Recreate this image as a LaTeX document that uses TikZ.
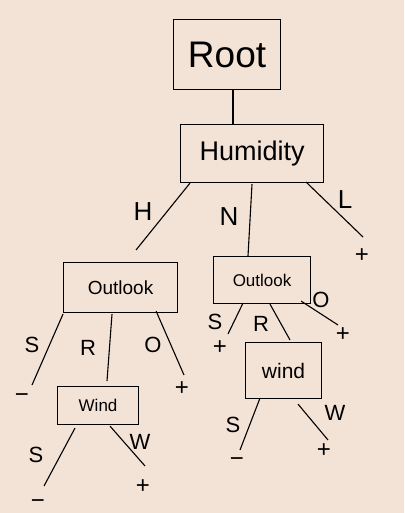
\documentclass[tikz,border=0pt]{standalone}
\usepackage{fontspec}
\setmainfont{Liberation Sans}
\usetikzlibrary{calc}
\definecolor{bg}{RGB}{243,226,214}
\begin{document}
\begin{tikzpicture}[x=1pt,y=-1pt,
  box/.style={draw,line width=1.1pt,inner sep=0pt,anchor=north west},
  lbl/.style={inner sep=1pt,font=\fontsize{22}{22}\selectfont},
  leaf/.style={inner sep=2pt,font=\fontsize{24}{24}\selectfont},
  edge/.style={line width=1.1pt}]
\fill[bg] (0,0) rectangle (404,513);
\useasboundingbox (0,0) rectangle (404,513);
% boxes
\node[box,minimum width=107pt,minimum height=70pt,font=\fontsize{37}{37}\selectfont] (root) at (173,19) {Root};
\node[box,minimum width=143pt,minimum height=58pt,font=\fontsize{27}{27}\selectfont] (hum) at (180,124) {Humidity};
\node[box,minimum width=114pt,minimum height=50pt,font=\fontsize{19}{19}\selectfont] (ol1) at (63,262) {Outlook};
\node[box,minimum width=97pt,minimum height=47pt,font=\fontsize{17}{17}\selectfont] (ol2) at (213,256) {Outlook};
\node[box,minimum width=81pt,minimum height=38pt,font=\fontsize{17}{17}\selectfont] (w1) at (57,386) {Wind};
\node[box,minimum width=76pt,minimum height=56pt,font=\fontsize{21}{21}\selectfont] (w2) at (245,342) {wind};
% leaves
\node[leaf] (hl) at (362,256) {+};
\node[leaf] (s1) at (22,398) {−};
\node[leaf] (o1) at (182,389) {+};
\node[leaf] (s2) at (38,504) {−};
\node[leaf] (wp1) at (143,487) {+};
\node[leaf] (s3) at (220,348) {+};
\node[leaf] (o3) at (343,335) {+};
\node[leaf] (s4) at (237,462) {−};
\node[leaf] (wp2) at (324,451) {+};
% connectors
\draw[edge] ($(root.south west)+(60,0)$) -- ($(hum.north west)+(53,0)$);
\draw[edge] ($(hum.south west)+(10,0)$) -- ($(ol1.north west)+(73,-12)$);
\draw[edge] ($(hum.south west)+(72,1)$) -- ($(ol2.north west)+(35,0)$);
\draw[edge] ($(hum.south east)+(-18,-1)$) -- ($(hl)+(1,-19)$);
\draw[edge] ($(ol1.south west)+(0,1)$) -- ($(s1)+(10,-13)$);
\draw[edge] ($(ol1.south west)+(49,1)$) -- ($(w1.north west)+(50,-5)$);
\draw[edge] ($(ol1.south east)+(-22,-2)$) -- ($(o1)+(2,-14)$);
\draw[edge] ($(w1.south west)+(18,3)$) -- ($(s2)+(6,-18)$);
\draw[edge] ($(w1.south west)+(53,1)$) -- ($(wp1)+(2,-21)$);
\draw[edge] ($(ol2.south west)+(30,-1)$) -- ($(s3)+(8,-14)$);
\draw[edge] ($(ol2.south west)+(57,0)$) -- ($(w2.north west)+(45,-2)$);
\draw[edge] ($(ol2.south east)+(-10,-3)$) -- ($(o3)+(-5,-10)$);
\draw[edge] ($(w2.south west)+(15,-1)$) -- ($(s4)+(3,-12)$);
\draw[edge] ($(w2.south west)+(53,5)$) -- ($(wp2)+(4,-11)$);
% edge labels
\node[lbl,font=\fontsize{26}{26}\selectfont] (lH) at (143,212) {H};
\node[lbl,font=\fontsize{26}{26}\selectfont] (lN) at (229,217) {N};
\node[lbl,font=\fontsize{26}{26}\selectfont] (lL) at (345,200) {L};
\node[lbl] (lS1) at (32,345) {S};
\node[lbl] (lR1) at (88,348) {R};
\node[lbl] (lO1) at (153,345) {O};
\node[lbl] (lS2) at (36,455) {S};
\node[lbl] (lW1) at (140,442) {W};
\node[lbl] (lS3) at (215,322) {S};
\node[lbl] (lR2) at (261,324) {R};
\node[lbl] (lO2) at (321,300) {O};
\node[lbl] (lS4) at (233,425) {S};
\node[lbl] (lW2) at (335,413) {W};
\end{tikzpicture}
\end{document}
